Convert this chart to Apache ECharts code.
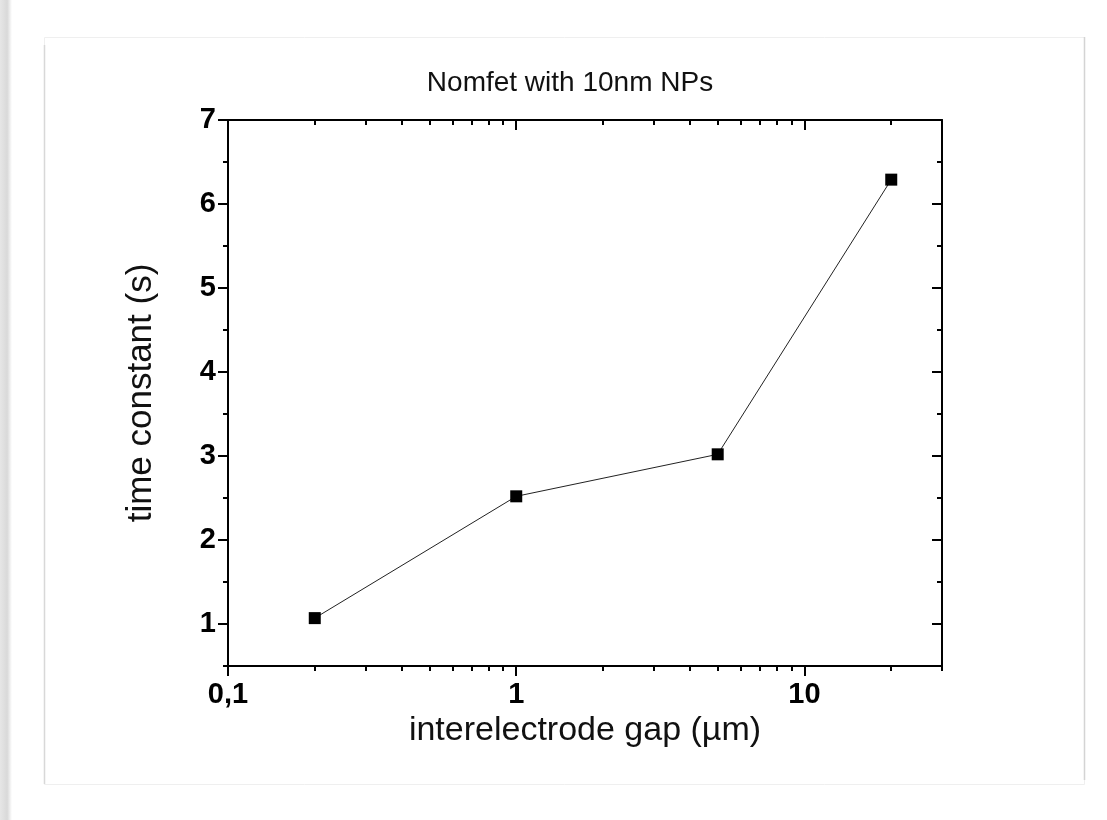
<!DOCTYPE html>
<html>
<head>
<meta charset="utf-8">
<script src="https://cdn.jsdelivr.net/npm/echarts@6/dist/echarts.min.js"></script>
<style>
  html, body { margin: 0; padding: 0; background: #fff; }
  #main { width: 1107px; height: 820px; }
</style>
</head>
<body>
<div id="main"></div>
<script>
// data
var gapUm = [0.2, 1, 5, 20];
var timeConst = [1.07, 2.52, 3.02, 6.29];

// ticks
var xMajor = [0.1, 1, 10];
var xMinor = [0.2, 0.3, 0.4, 0.5, 0.6, 0.7, 0.8, 0.9, 2, 3, 4, 5, 6, 7, 8, 9, 20, 30];
var yMajor = [1, 2, 3, 4, 5, 6, 7];
var yMinor = [0.5, 1.5, 2.5, 3.5, 4.5, 5.5, 6.5];

var FONT = "'Liberation Sans', Arial, sans-serif";

function xAx(pos, ticks, len, inside, withLine, withLabel) {
    return {
        type: 'log',
        logBase: 10,
        min: 0.1,
        max: 30,
        position: pos,
        name: withLabel ? 'interelectrode gap (µm)' : '',
        nameLocation: 'middle',
        nameGap: 47,
        nameTextStyle: { fontFamily: FONT, fontSize: 34, color: '#111' },
        axisLine: { show: withLine, lineStyle: { color: '#000', width: 2 } },
        axisTick: { show: true, inside: inside, length: len, customValues: ticks, lineStyle: { color: '#000', width: 2 } },
        minorTick: { show: false },
        axisLabel: {
            show: withLabel,
            customValues: xMajor,
            margin: 14,
            fontFamily: FONT,
            fontSize: 29,
            fontWeight: 'bold',
            color: '#000',
            formatter: function (v) {
                return String(+(+v).toPrecision(3)).replace('.', ',');
            }
        },
        splitLine: { show: false }
    };
}

function yAx(pos, ticks, len, inside, withLine, withLabel) {
    return {
        type: 'value',
        min: 0.5,
        max: 7,
        position: pos,
        name: withLabel ? 'time constant (s)' : '',
        nameLocation: 'middle',
        nameGap: 69,
        nameTextStyle: { fontFamily: FONT, fontSize: 35, color: '#111' },
        axisLine: { show: withLine, lineStyle: { color: '#000', width: 2 } },
        axisTick: { show: true, inside: inside, length: len, customValues: ticks, lineStyle: { color: '#000', width: 2 } },
        axisLabel: {
            show: withLabel,
            customValues: yMajor,
            margin: 12,
            fontFamily: FONT,
            fontSize: 29,
            fontWeight: 'bold',
            color: '#000'
        },
        splitLine: { show: false }
    };
}

var dom = document.getElementById('main');
var myChart = echarts.init(dom, null, { renderer: 'canvas' });
var option = {
    backgroundColor: '#fff',
    animation: false,
    title: {
        text: 'Nomfet with 10nm NPs',
        left: 565,
        top: 64,
        textAlign: 'center',
        textStyle: { fontFamily: FONT, fontSize: 28, fontWeight: 'normal', color: '#111' }
    },
    graphic: [
        // left shadow strip
        {
            type: 'rect', left: 0, top: 0, z: -10,
            shape: { width: 12, height: 820 },
            style: {
                fill: new echarts.graphic.LinearGradient(0, 0, 1, 0, [
                    { offset: 0, color: '#e6e6e6' },
                    { offset: 0.6, color: '#d9d9d9' },
                    { offset: 1, color: '#ffffff' }
                ])
            }
        },
        // card
        {
            type: 'rect', left: 44, top: 37, z: -9,
            shape: { width: 1040, height: 747 },
            style: { fill: '#fff', stroke: '#efefef', lineWidth: 1 }
        },
        {
            type: 'line', z: -8,
            shape: { x1: 44.5, y1: 45, x2: 44.5, y2: 784 },
            style: { stroke: '#d8d8d8', lineWidth: 1.5 }
        },
        {
            type: 'line', z: -8,
            shape: { x1: 1084.5, y1: 37, x2: 1084.5, y2: 780 },
            style: { stroke: '#d4d4d4', lineWidth: 1.5 }
        }
    ],
    grid: {
        left: 228,
        top: 120,
        right: 165,
        bottom: 154,
        outerBoundsMode: 'none',
        containLabel: false
    },
    xAxis: [
        xAx('bottom', xMajor, 10, false, true, true),
        xAx('bottom', xMinor, 5, false, false, false),
        xAx('top', xMajor, 10, true, true, false),
        xAx('top', xMinor, 5, true, false, false)
    ],
    yAxis: [
        yAx('left', yMajor, 10, false, true, true),
        yAx('left', yMinor, 5, false, false, false),
        yAx('right', yMajor, 10, true, true, false),
        yAx('right', yMinor, 5, true, false, false)
    ],
    series: [{
        type: 'line',
        xAxisIndex: 0,
        yAxisIndex: 0,
        data: gapUm.map(function (g, i) { return [g, timeConst[i]]; }),
        symbol: 'rect',
        symbolSize: 12,
        showSymbol: true,
        itemStyle: { color: '#000' },
        lineStyle: { color: '#222', width: 1 },
        z: 5
    }]
};
myChart.setOption(option, true);
window.onresize = myChart.resize;
</script>
</body>
</html>
